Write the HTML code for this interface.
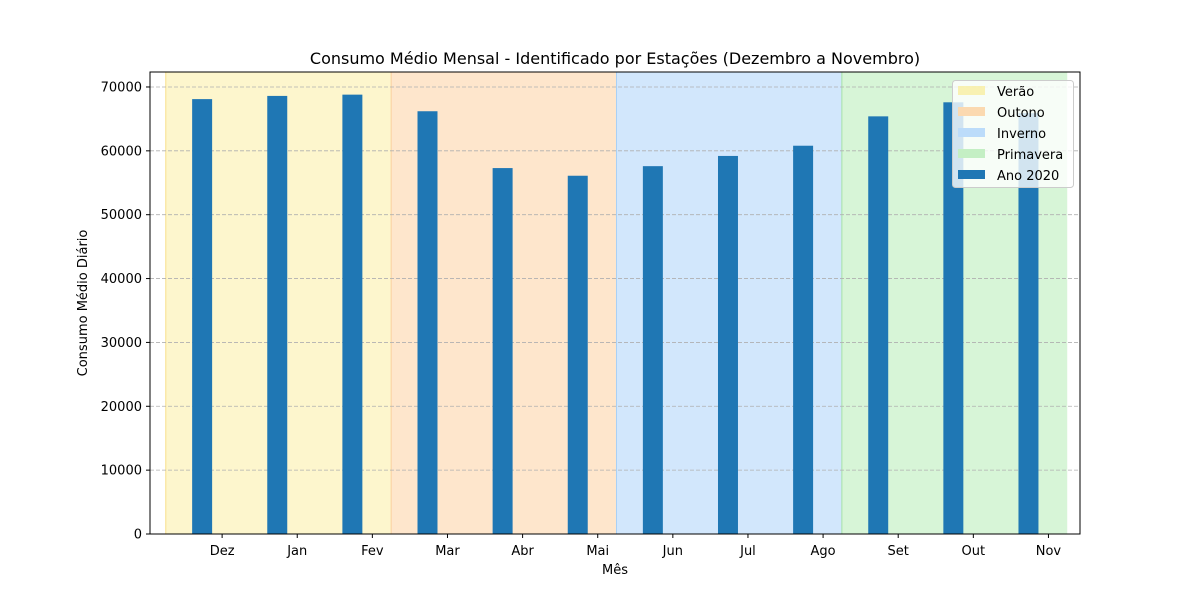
<!DOCTYPE html>
<html><head><meta charset="utf-8"><style>
body{margin:0;background:#fff;font-family:"Liberation Sans","DejaVu Sans",sans-serif}
svg text{font-family:"DejaVu Sans","Liberation Sans",sans-serif}
</style></head><body>
<svg id="c" width="1200" height="600" xmlns="http://www.w3.org/2000/svg"></svg>
<script>
const months=["Dez","Jan","Fev","Mar","Abr","Mai","Jun","Jul","Ago","Set","Out","Nov"];
const consumo=[68100,68600,68800,66200,57300,56100,57600,59200,60800,65400,67600,65900];
const seasons=["Verão","Outono","Inverno","Primavera"];
const seasonStart=[-0.75,2.25,5.25,8.25];
const seasonEnd=[2.25,5.25,8.25,11.25];
const seasonColors=["#fdf6cd","#fee6cc","#d2e7fc","#d7f5d7"];
const seasonEdge=["#f8e08a","#f9cf9d","#a9d0f5","#a6e3a6"];
const yTicks=[0,10000,20000,30000,40000,50000,60000,70000];
const L=150,R=1080,T=72,B=534,XMIN=-0.96,XMAX=11.42,YMAX=72345;
const sx=v=>L+(v-XMIN)/(XMAX-XMIN)*(R-L);
const sy=v=>B-v/YMAX*(B-T);
const svg=document.getElementById('c');
const NS="http://www.w3.org/2000/svg";
function mk(tag,at,parent){const e=document.createElementNS(NS,tag);for(const k in at)e.setAttribute(k,at[k]);(parent||svg).appendChild(e);return e;}
seasons.forEach((s,i)=>{
 const r=mk('rect',{x:sx(seasonStart[i]),y:T,width:sx(seasonEnd[i])-sx(seasonStart[i]),height:B-T,fill:seasonColors[i]});
 
 
 mk('line',{x1:sx(seasonStart[i]),x2:sx(seasonStart[i]),y1:T,y2:B,stroke:seasonEdge[i],'stroke-width':1});
});
yTicks.forEach(v=>{
 const g=mk('line',{x1:L,x2:R,y1:sy(v),y2:sy(v),stroke:'#b0b0b0','stroke-width':0.8,'stroke-dasharray':'4,2'});
 
 
 mk('line',{x1:L-4,x2:L,y1:sy(v),y2:sy(v),stroke:'#000'});
 const t=mk('text',{x:L-8,y:sy(v)+4.5,'text-anchor':'end','font-size':13});
 t.textContent=v;
 
 
});
const bw=0.266;
consumo.forEach((v,i)=>{
 const b=mk('rect',{x:sx(i-0.266-bw/2),y:sy(v),width:sx(bw)-sx(0),height:B-sy(v),fill:'#1f77b4'});
 
 
 mk('line',{x1:sx(i),x2:sx(i),y1:B,y2:B+4,stroke:'#000'});
 const t=mk('text',{x:sx(i),y:B+21,'text-anchor':'middle','font-size':13});
 t.textContent=months[i];
 
 
});
mk('rect',{x:L,y:T,width:R-L,height:B-T,fill:'none',stroke:'#000','stroke-width':1});
</script>
<svg width="1200" height="600" style="position:absolute;left:0;top:0" xmlns="http://www.w3.org/2000/svg">
<text x="615" y="64" text-anchor="middle" font-size="16">Consumo Médio Mensal - Identificado por Estações (Dezembro a Novembro)</text>
<text x="615" y="574" text-anchor="middle" font-size="13">Mês</text>
<text x="0" y="0" transform="translate(87,303) rotate(-90)" text-anchor="middle" font-size="13">Consumo Médio Diário</text>
<g>
<rect x="952.5" y="80.5" width="121" height="107" rx="3" fill="#fff" fill-opacity="0.8" stroke="#ccc"/>
<rect x="958" y="86" width="27" height="9" fill="#f8eda0" fill-opacity="0.8"/>
<text x="997" y="96" font-size="13">Verão</text>
<rect x="958" y="107" width="27" height="9" fill="#fbd9b0"/>
<text x="997" y="117" font-size="13">Outono</text>
<rect x="958" y="128" width="27" height="9" fill="#bcdcfa"/>
<text x="997" y="138" font-size="13">Inverno</text>
<rect x="958" y="149" width="27" height="9" fill="#c4efc4"/>
<text x="997" y="159" font-size="13">Primavera</text>
<rect x="958" y="170" width="27" height="9" fill="#1f77b4"/>
<text x="997" y="180" font-size="13">Ano 2020</text>
</g>
</svg>
</body></html>
